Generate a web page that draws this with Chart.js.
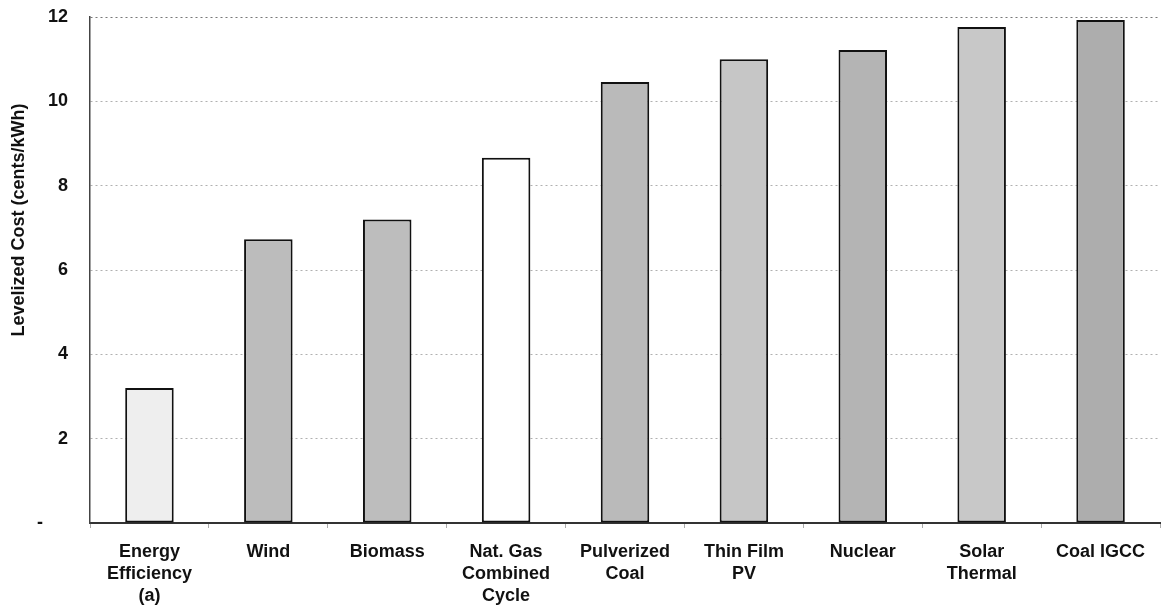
<!DOCTYPE html>
<html>
<head>
<meta charset="utf-8">
<script src="https://cdn.jsdelivr.net/npm/chart.js@4"></script>
<style>
  body { margin: 0; background: #fff; }
  canvas { display: block; }
</style>
</head>
<body>
<canvas id="myChart" width="1161" height="614"></canvas>
<script>
// technologies, cost in cents/kWh
const categories = [
  ['Energy', 'Efficiency', '(a)'],
  ['Wind'],
  ['Biomass'],
  ['Nat. Gas', 'Combined', 'Cycle'],
  ['Pulverized', 'Coal'],
  ['Thin Film', 'PV'],
  ['Nuclear'],
  ['Solar', 'Thermal'],
  ['Coal IGCC']
];
const costs = [3.2, 6.73, 7.2, 8.66, 10.46, 11.0, 11.22, 11.76, 11.93];
const yTicks = [0, 2, 4, 6, 8, 10, 12];

const barColors = ['#eeeeee', '#bcbcbc', '#bdbdbd', '#ffffff', '#bababa', '#c6c6c6', '#b4b4b4', '#c8c8c8', '#adadad'];

const font = { family: 'Liberation Sans, Arial, sans-serif', size: 18, weight: 'bold' };

const ctx = document.getElementById('myChart').getContext('2d');
const myChart = new Chart(ctx, {
  type: 'bar',
  data: {
    labels: categories,
    datasets: [{
      label: 'Levelized Cost',
      data: costs,
      backgroundColor: barColors,
      borderColor: '#111',
      borderWidth: 2,
      borderSkipped: false,
      barPercentage: 0.8,
      categoryPercentage: 0.51
    }]
  },
  options: {
    responsive: false,
    animation: false,
    layout: { padding: { top: 17, right: 1, left: 0, bottom: 0 } },
    plugins: { legend: { display: false }, tooltip: { enabled: false } },
    scales: {
      x: {
        grid: { display: true, drawOnChartArea: false, drawTicks: true, tickLength: 5, color: '#aaa' },
        border: { color: '#333', width: 2 },
        ticks: { color: '#111', font: { ...font, lineHeight: 1.22 }, padding: 13, maxRotation: 0, autoSkip: false },
        afterFit: (axis) => { axis.height = 91; }
      },
      y: {
        min: 0,
        max: 12,
        afterBuildTicks: (axis) => { axis.ticks = yTicks.map(v => ({ value: v })); },
        grid: { color: (c) => c.tick && c.tick.value === 12 ? '#777' : '#b0b0b0', lineWidth: 1, drawTicks: false },
        border: { color: '#444', width: 1.5, dash: [2, 3] },
        ticks: {
          color: '#111',
          font: font,
          padding: 22,
          callback: (v) => v === 0 ? '-     ' : v
        },
        // leading spaces push the title up a bit, like the original
        title: { display: true, text: '                    Levelized Cost (cents/kWh)', color: '#111', font: font, padding: { top: 8, bottom: 0 } },
        afterFit: (axis) => {
          axis.width = 90;
          axis.paddingTop = 0;
          axis.paddingBottom = 0;
        }
      }
    }
  }
});
</script>
</body>
</html>
